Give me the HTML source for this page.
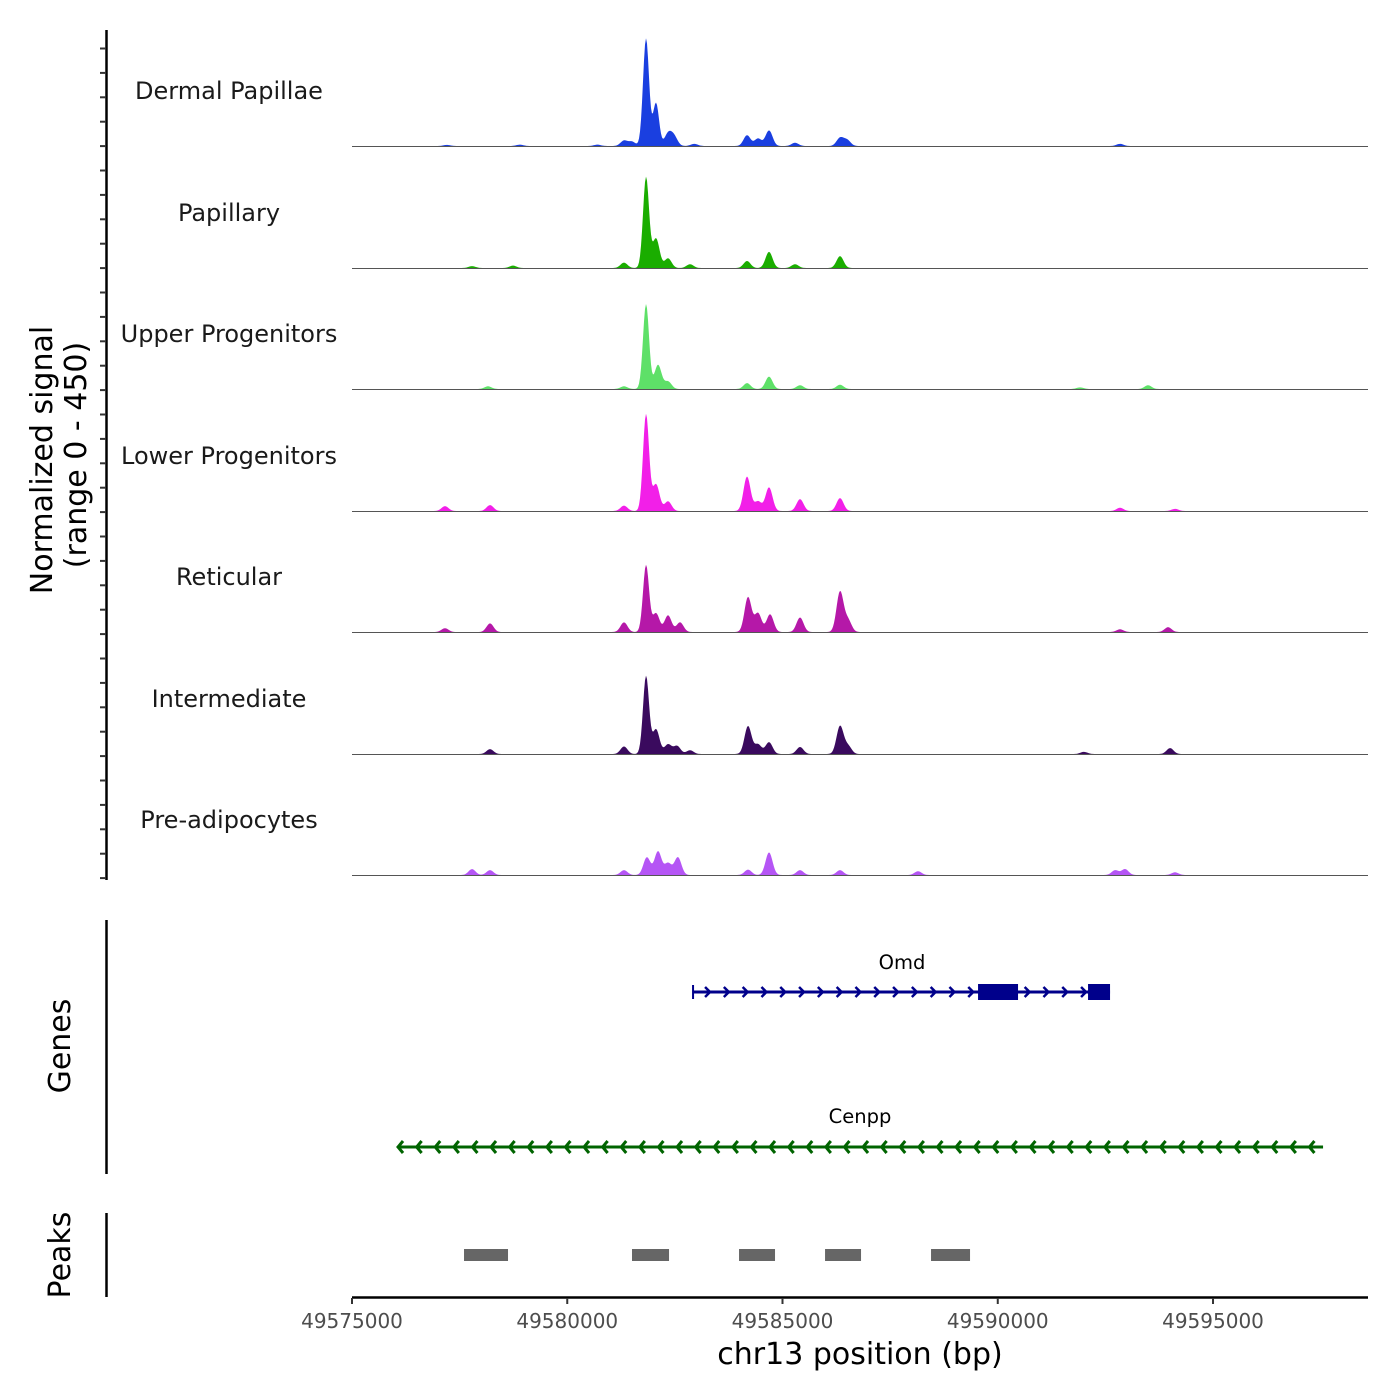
<!DOCTYPE html>
<html><head><meta charset="utf-8"><style>
html,body{margin:0;padding:0;background:#fff;}
svg{display:block;font-family:"DejaVu Sans","Liberation Sans",sans-serif;}
</style></head><body>
<svg id="chart" width="1400" height="1400" viewBox="0 0 1400 1400">
<g id="tracks"></g>
<g id="yaxis"></g>
<g id="genes"></g>
<g id="peaks"></g>
<g id="xaxis"></g>
</svg>
<script>
// ---- data ----
const trackNames = ["Dermal Papillae","Papillary","Upper Progenitors","Lower Progenitors","Reticular","Intermediate","Pre-adipocytes"];
const trackColors = ["#1a3fe0","#1aad00","#5ee068","#f21fe8","#b518a8","#3a0a5e","#b555f5"];
// peak positions (bp) and heights (normalized signal, 0-450) per track
const dpPos = [49577200,49578900,49580700,49581318,49581504,49581830,49582062,49582341,49582480,49582950,49584176,49584432,49584687,49585291,49586336,49586500,49592840];
const dpVal = [4,5,5,20,16,400,160,45,35,8,40,28,58,12,30,22,8];
const papPos = [49577788,49578740,49581318,49581830,49582062,49582341,49582852,49584176,49584687,49585291,49586336];
const papVal = [7,9,20,338,110,36,14,26,60,14,44];
const upPos = [49578160,49581318,49581830,49582108,49582341,49584176,49584687,49585407,49586336,49591912,49593491];
const upVal = [10,10,316,90,28,22,46,14,16,6,14];
const lpPos = [49577160,49578206,49581318,49581830,49582062,49582341,49584176,49584432,49584687,49585407,49586336,49592840,49594118];
const lpVal = [18,22,20,360,100,36,128,36,88,44,48,12,8];
const retPos = [49577160,49578206,49581318,49581830,49582062,49582341,49582620,49584199,49584432,49584711,49585407,49586336,49586522,49592840,49593956];
const retVal = [14,32,36,249,70,62,36,130,70,66,54,150,44,10,18];
const intPos = [49578206,49581318,49581830,49582062,49582341,49582550,49582852,49584199,49584432,49584687,49585407,49586336,49586522,49592000,49594002];
const intVal = [18,28,290,92,36,30,14,104,36,44,26,104,30,8,22];
const preaPos = [49577788,49578206,49581318,49581850,49582108,49582341,49582570,49584199,49584687,49585407,49586336,49588148,49592726,49592957,49594118];
const preaVal = [22,18,18,66,88,44,66,20,84,18,18,14,18,22,10];
const trackPos = [dpPos,papPos,upPos,lpPos,retPos,intPos,preaPos];
const trackVal = [dpVal,papVal,upVal,lpVal,retVal,intVal,preaVal];
const xTicks = [49575000,49580000,49585000,49590000,49595000];
const peakStarts = [49577602,49581504,49583990,49585988,49588450];
const peakEnds = [49578624,49582364,49584826,49586824,49589356];
const omdStart = 49582922, omdEnd = 49592608;
const omdExonStarts = [49589542,49592097];
const omdExonEnds = [49590471,49592608];
const cenppStart = 49576069, cenppEnd = 49597556;

// ---- scales ----
const X0=352, X1=1368, BP0=49575000, BP1=49598600;
const xs = bp => X0 + (bp-BP0)/(BP1-BP0)*(X1-X0);
const baselines=[146,268,389,511,632,754,875];
const TRACK_H=121;
const ys = (v,i) => baselines[i] - v/450*TRACK_H;
const NS="http://www.w3.org/2000/svg";
function mk(tag, attrs, parent){const e=document.createElementNS(NS,tag);for(const k in attrs)e.setAttribute(k,attrs[k]);parent.appendChild(e);return e;}

// ---- tracks ----
const gT=document.getElementById('tracks');
trackNames.forEach((name,i)=>{
  const g=mk('g',{},gT);
  
  
  const pos=trackPos[i], val=trackVal[i];
  let d='M'+X0+','+baselines[i];
  for(let x=X0;x<=X1;x+=1){
    let s=0;
    for(let k=0;k<pos.length;k++){
      const dx=x-xs(pos[k]);
      const sig= val[k]>150?3:3.5;
      s+=val[k]*Math.exp(-dx*dx/(2*sig*sig));
    }
    d+=' L'+x+','+ys(Math.min(s,450),i).toFixed(2);
  }
  d+=' L'+X1+','+baselines[i]+' Z';
  const p=mk('path',{d:d,fill:trackColors[i]},g);
  
  
  const bl=mk('line',{x1:X0,x2:X1,y1:baselines[i]+0.5,y2:baselines[i]+0.5,stroke:'#555','stroke-width':1},g);
  
  
  const t=mk('text',{x:229,y:baselines[i]-47,'text-anchor':'middle','font-size':24,fill:'#1a1a1a'},g);
  t.textContent=name;
  
  
});

// ---- y axis ----
const gY=document.getElementById('yaxis');
mk('line',{x1:106.5,x2:106.5,y1:30,y2:880,stroke:'#000','stroke-width':2.5},gY);
for(let y=48.5;y<=880;y+=24.4){mk('line',{x1:100,x2:106,y1:y,y2:y,stroke:'#333','stroke-width':2},gY);}
const yt=mk('text',{transform:'translate(52,460) rotate(-90)','text-anchor':'middle','font-size':30,fill:'#000'},gY);


yt.textContent='Normalized signal';
const yt2=mk('text',{transform:'translate(86,455) rotate(-90)','text-anchor':'middle','font-size':30,fill:'#000'},gY);


yt2.textContent='(range 0 - 450)';

// ---- genes ----
const gG=document.getElementById('genes');
mk('line',{x1:106.5,x2:106.5,y1:920,y2:1174,stroke:'#000','stroke-width':2.5},gG);
const gl=mk('text',{transform:'translate(70,1046) rotate(-90)','text-anchor':'middle','font-size':30},gG);
gl.textContent='Genes';


// Omd
const omd=mk('g',{},gG);


const oy=992;
mk('line',{x1:xs(omdStart),x2:xs(omdEnd),y1:oy,y2:oy,stroke:'#00008b','stroke-width':3},omd);
mk('line',{x1:xs(omdStart),x2:xs(omdStart),y1:oy-7,y2:oy+7,stroke:'#00008b','stroke-width':2},omd);
for(let x=xs(omdStart)+17;x<xs(omdEnd)-4;x+=18.8){
  mk('polyline',{points:(x-5)+','+(oy-5)+' '+x+','+oy+' '+(x-5)+','+(oy+5),fill:'none',stroke:'#00008b','stroke-width':2.5},omd);
}
omdExonStarts.forEach((s,k)=>{mk('rect',{x:xs(s),y:oy-8,width:xs(omdExonEnds[k])-xs(s),height:16,fill:'#00008b'},omd);});
const ot=mk('text',{x:902,y:969,'text-anchor':'middle','font-size':19.5},omd);ot.textContent='Omd';
// Cenpp
const cen=mk('g',{},gG);


const cy=1147;
mk('line',{x1:xs(cenppStart),x2:xs(cenppEnd),y1:cy,y2:cy,stroke:'#006400','stroke-width':3},cen);
for(let x=xs(cenppStart);x<xs(cenppEnd)-10;x+=18.6){
  mk('polyline',{points:(x+5)+','+(cy-6)+' '+x+','+cy+' '+(x+5)+','+(cy+6),fill:'none',stroke:'#006400','stroke-width':3},cen);
}
const ct=mk('text',{x:860,y:1123,'text-anchor':'middle','font-size':19.5},cen);ct.textContent='Cenpp';

// ---- peaks ----
const gP=document.getElementById('peaks');
mk('line',{x1:106.5,x2:106.5,y1:1213,y2:1297,stroke:'#000','stroke-width':2.5},gP);
const pl=mk('text',{transform:'translate(70,1255) rotate(-90)','text-anchor':'middle','font-size':30},gP);
pl.textContent='Peaks';


peakStarts.forEach((s,k)=>{
  const r=mk('rect',{x:xs(s),y:1249,width:xs(peakEnds[k])-xs(s),height:12,fill:'#666'},gP);
  
  
});

// ---- x axis ----
const gX=document.getElementById('xaxis');
mk('line',{x1:X0,x2:X1,y1:1297.5,y2:1297.5,stroke:'#000','stroke-width':2.5},gX);
xTicks.forEach(v=>{
  const x=xs(v);
  mk('line',{x1:x,x2:x,y1:1298,y2:1304,stroke:'#333','stroke-width':2},gX);
  const t=mk('text',{x:x,y:1328,'text-anchor':'middle','font-size':20,fill:'#4d4d4d'},gX);
  t.textContent=v;
  
  
});
const xt=mk('text',{x:860,y:1364,'text-anchor':'middle','font-size':30},gX);
xt.textContent='chr13 position (bp)';


</script>
</body></html>
